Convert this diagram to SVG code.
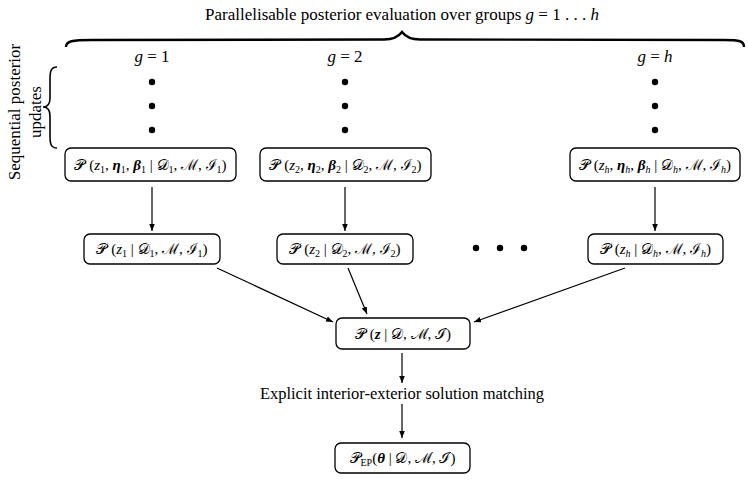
<svg xmlns="http://www.w3.org/2000/svg" width="748" height="483" viewBox="0 0 748 483">
<defs>
<style>
text{font-family:"Liberation Serif","DejaVu Serif",serif;fill:#000}
.t{font-size:17px}
.m{font-size:15px;text-anchor:middle}
.i{font-style:italic}
.bi{font-style:italic;font-weight:bold}
.sub{font-size:10px}
.box{fill:#fff;stroke:#000;stroke-width:1.3}
.ln{fill:none;stroke:#000;stroke-width:1.2}
.dot{fill:#000}
</style>
<marker id="ah" viewBox="0 0 10 10" refX="10" refY="5" markerWidth="7" markerHeight="7" markerUnits="userSpaceOnUse" orient="auto">
<path d="M0,1 L10,5 L0,9 z" fill="#000"/>
</marker>
</defs>
<rect width="748" height="483" fill="#fff"/>

<g id="top-brace">
<text class="t" x="402" y="20" text-anchor="middle">Parallelisable posterior evaluation over groups <tspan class="i">g</tspan> = 1 . . . <tspan class="i">h</tspan></text>
<path d="M66,47 C66,41 72,40 92,40 L384,39.5 C394,39.5 399,36 402,32 C405,36 410,39.5 420,39.5 L724,40 C740,40 744,41 744,47" fill="none" stroke="#000" stroke-width="2.4"/>
</g>

<g id="left-brace">
<path d="M57,67 C51,67 50,71 50,79 L50,98 C50,104 47,107 43,107 C47,107 50,110 50,116 L50,136 C50,144 51,148 57,148" fill="none" stroke="#000" stroke-width="1.6"/>
<text class="t" transform="translate(20,112) rotate(-90)" text-anchor="middle">Sequential posterior</text>
<text class="t" transform="translate(41,112) rotate(-90)" text-anchor="middle">updates</text>
</g>

<g id="col1-header">
<text class="t" x="152" y="62" text-anchor="middle"><tspan class="i">g</tspan> = 1</text>
<circle class="dot" cx="152" cy="82" r="3.2"/>
<circle class="dot" cx="152" cy="106" r="3.2"/>
<circle class="dot" cx="152" cy="130" r="3.2"/>
</g>
<g id="col2-header">
<text class="t" x="345" y="62" text-anchor="middle"><tspan class="i">g</tspan> = 2</text>
<circle class="dot" cx="345" cy="82" r="3.2"/>
<circle class="dot" cx="345" cy="106" r="3.2"/>
<circle class="dot" cx="345" cy="130" r="3.2"/>
</g>
<g id="colh-header">
<text class="t" x="655" y="62" text-anchor="middle"><tspan class="i">g</tspan> = <tspan class="i">h</tspan></text>
<circle class="dot" cx="655" cy="82" r="3.2"/>
<circle class="dot" cx="655" cy="106" r="3.2"/>
<circle class="dot" cx="655" cy="130" r="3.2"/>
</g>

<g id="joint1">
<rect class="box" x="65" y="148" width="171" height="33" rx="6"/>
<text class="m" x="150.5" y="170">𝒫 (<tspan class="i">z</tspan><tspan class="sub" dy="3">1</tspan><tspan dy="-3">, </tspan><tspan class="bi">η</tspan><tspan class="sub" dy="3">1</tspan><tspan dy="-3">, </tspan><tspan class="bi">β</tspan><tspan class="sub" dy="3">1</tspan><tspan dy="-3"> | 𝒟</tspan><tspan class="sub" dy="3">1</tspan><tspan dy="-3">, ℳ, ℐ</tspan><tspan class="sub" dy="3">1</tspan><tspan dy="-3">)</tspan></text>
</g>
<g id="joint2">
<rect class="box" x="260" y="148" width="171" height="33" rx="6"/>
<text class="m" x="345.5" y="170">𝒫 (<tspan class="i">z</tspan><tspan class="sub" dy="3">2</tspan><tspan dy="-3">, </tspan><tspan class="bi">η</tspan><tspan class="sub" dy="3">2</tspan><tspan dy="-3">, </tspan><tspan class="bi">β</tspan><tspan class="sub" dy="3">2</tspan><tspan dy="-3"> | 𝒟</tspan><tspan class="sub" dy="3">2</tspan><tspan dy="-3">, ℳ, ℐ</tspan><tspan class="sub" dy="3">2</tspan><tspan dy="-3">)</tspan></text>
</g>
<g id="jointh">
<rect class="box" x="570" y="148" width="170" height="33" rx="6"/>
<text class="m" x="655" y="170">𝒫 (<tspan class="i">z</tspan><tspan class="sub i" dy="3">h</tspan><tspan dy="-3">, </tspan><tspan class="bi">η</tspan><tspan class="sub i" dy="3">h</tspan><tspan dy="-3">, </tspan><tspan class="bi">β</tspan><tspan class="sub i" dy="3">h</tspan><tspan dy="-3"> | 𝒟</tspan><tspan class="sub i" dy="3">h</tspan><tspan dy="-3">, ℳ, ℐ</tspan><tspan class="sub i" dy="3">h</tspan><tspan dy="-3">)</tspan></text>
</g>

<g id="marg1">
<rect class="box" x="84" y="234" width="136" height="30" rx="6"/>
<text class="m" x="152" y="254">𝒫 (<tspan class="i">z</tspan><tspan class="sub" dy="3">1</tspan><tspan dy="-3"> | 𝒟</tspan><tspan class="sub" dy="3">1</tspan><tspan dy="-3">, ℳ, ℐ</tspan><tspan class="sub" dy="3">1</tspan><tspan dy="-3">)</tspan></text>
</g>
<g id="marg2">
<rect class="box" x="277" y="234" width="136" height="30" rx="6"/>
<text class="m" x="345" y="254">𝒫 (<tspan class="i">z</tspan><tspan class="sub" dy="3">2</tspan><tspan dy="-3"> | 𝒟</tspan><tspan class="sub" dy="3">2</tspan><tspan dy="-3">, ℳ, ℐ</tspan><tspan class="sub" dy="3">2</tspan><tspan dy="-3">)</tspan></text>
</g>
<g id="margh">
<rect class="box" x="588" y="234" width="135" height="30" rx="6"/>
<text class="m" x="655.5" y="254">𝒫 (<tspan class="i">z</tspan><tspan class="sub i" dy="3">h</tspan><tspan dy="-3"> | 𝒟</tspan><tspan class="sub i" dy="3">h</tspan><tspan dy="-3">, ℳ, ℐ</tspan><tspan class="sub i" dy="3">h</tspan><tspan dy="-3">)</tspan></text>
</g>

<g id="ellipsis">
<circle class="dot" cx="476" cy="248" r="3.2"/>
<circle class="dot" cx="500" cy="248" r="3.2"/>
<circle class="dot" cx="524" cy="248" r="3.2"/>
</g>

<g id="combined">
<rect class="box" x="336" y="318" width="134" height="31" rx="6"/>
<text class="m" x="403" y="339">𝒫 (<tspan class="bi">z</tspan> | 𝒟, ℳ, ℐ)</text>
</g>

<g id="matching-label">
<text class="t" x="402" y="399" text-anchor="middle" style="font-size:16.5px">Explicit interior-exterior solution matching</text>
</g>

<g id="final">
<rect class="box" x="335" y="443" width="135" height="30" rx="6"/>
<text class="m" x="402.5" y="463">𝒫<tspan class="sub" dy="3">EP</tspan><tspan dy="-3">(</tspan><tspan class="bi">θ</tspan> | 𝒟, ℳ, ℐ)</text>
</g>

<g id="connectors">
<line class="ln" x1="152" y1="187" x2="152" y2="231" marker-end="url(#ah)"/>
<line class="ln" x1="345" y1="187" x2="345" y2="231" marker-end="url(#ah)"/>
<line class="ln" x1="655" y1="187" x2="655" y2="231" marker-end="url(#ah)"/>
<line class="ln" x1="217" y1="268" x2="333" y2="322" marker-end="url(#ah)"/>
<line class="ln" x1="348" y1="268" x2="367" y2="314" marker-end="url(#ah)"/>
<line class="ln" x1="625" y1="268" x2="474" y2="322" marker-end="url(#ah)"/>
<line class="ln" x1="402" y1="353" x2="402" y2="383" marker-end="url(#ah)"/>
<line class="ln" x1="402" y1="404" x2="402" y2="438" marker-end="url(#ah)"/>
</g>
</svg>
